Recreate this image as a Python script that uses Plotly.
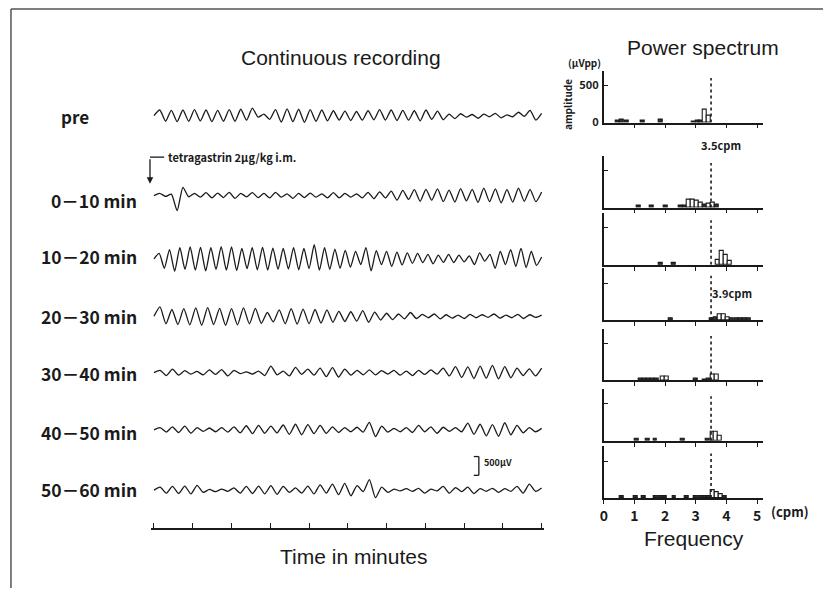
import numpy as np
import plotly.graph_objects as go

W, H = 823, 595

# ---------------- data ----------------
row_labels = ["pre", "0－10 min", "10－20 min", "20－30 min", "30－40 min", "40－50 min", "50－60 min"]

# extrema of each recording (µV), read left to right over 10 minutes
trace_pre = [0, 150, -150, 140, -160, 150, -150, 160, -140, 150, -160, 140, -150, 160, -150, 170, -120,
             200, -40, 40, -100,
             160, -170, 180, -160, 170, -180, 160, -150, 150, -140, 130, -120, 120, -130, 110, -120, 130, -110,
             160, -120, 150, -130, 140, -120, 130, -140, 150, -100, 120, -110,
             40, -80, 50, -40, 30, -70, 40, -30, 60, -60, 20, -30, 90, -20, 140, -120, 60]
trace_0_10 = [0, 60, -20, 40, -400, 220, -30, 60, -40, 80, -60, 70, -50, 90, -70, 60, -30, 80, -50, 60, -60,
              90, -40, 50, -70, 60, -50, 70, -40, 50, -60, 80, -60, 60, -40, 50, -60, 90, -80, 100, -60,
              120, -120, 140, -100, 160, -150, 170, -120, 180, -160, 150, -170, 190, -140, 170, -180,
              200, -160, 180, -190, 160, -170, 200, -150, 170, -160, 100]
trace_10_20 = [0, 150, -250, 250, -330, 300, -280, 320, -300, 310, -320, 300, -280, 330, -300, 320, -310,
               280, -260, 300, -290, 310, -300, 290, -280, 280, -270, 300, -290, 280, -260,
               380, -300, 300, -280, 260, -250, 230, -220, 200, -150,
               300, -320, 220, -150, 200, -200, 180, -160, 160, -120, 150, -100, 120, -130, 100, -90, 120, -100,
               100, -80, 80, -150, 160, -60, 120, -250, 200, -150, 250, -200, 280, -230, 200, -170, 50]
trace_20_30 = [0, 250, -200, 180, -220, 200, -230, 220, -240, 230, -220, 210, -240, 200, -230, 220, -200, 210, -190,
               100, -150, 170, -200, 200, -210, 190, -200, 180, -180, 170, -160, 130, -140, 120, -130, 150, -160, 110, -100,
               80, -90, 60, -70, 100, -60, 50, -40, 60, -70, 40, -50, 30, -60, 50, -40, 40, -30, 60, -50,
               30, -40, 50, -60, 40, -30, 30]
trace_30_40 = [0, 60, -80, 90, -70, 50, -40, 30, -60, 70, -50, 80, -90, 60, -30, 20, -40, 40, -80, 170, -60,
               40, -90, 140, -50, 90, -70, 120, -110, 130, -120, 90, -70, 60, -60, 70, -60, 50, -40, 60, -70,
               40, -80, 60, -50, 70, -40, 120, -90, 160, -130, 150, -160, 170, -150, 190, -170, 160, -140,
               120, -80, 100, -90, 120]
trace_40_50 = [0, 60, -60, 80, -70, 100, -90, 60, -40, 50, -50, 60, -60, 80, -80, 110, -100, 120, -90, 100, -80,
               130, -120, 150, -130, 140, -100, 120, -90, 80, -70, 60, -50, 70, -60, 200, -180, 100, -60,
               40, -50, 60, -70, 120, -50, 80, -90, 70, -40, 60, -50, 180, -120, 150, -160, 140, -170,
               190, -130, 120, -80, 60, -50, 40]
trace_50_60 = [0, 80, -80, 100, -90, 110, -100, 130, -60, 20, -40, 30, -30, 60, -80, 100, -90, 110, -100,
               120, -110, 100, -60, 60, -80, 110, -100, 140, -80, 160, -120, 180, -150, 120, -40, 280, -200,
               80, -60, 30, -20, 40, -30, 50, -80, 30, -20, 100, -80, 70, -40, 80, -90, 40, -30, 50, -60,
               40, -30, 100, -80, 160, -30, 60]
traces = [trace_pre, trace_0_10, trace_10_20, trace_20_30, trace_30_40, trace_40_50, trace_50_60]

time_ticks = list(range(0, 11))          # minutes
scale_bar_uv = 500

# power spectra: frequency (cpm) and amplitude (µVpp)
spec_pre_f = [0.45, 0.6, 0.75, 1.27, 1.86, 2.95, 3.08, 3.18, 3.31, 3.44]
spec_pre_a = [20, 40, 30, 30, 35, 15, 20, 25, 175, 95]
spec_0_10_f = [1.15, 1.56, 2.02, 2.51, 2.65, 2.78, 2.91, 3.04, 3.17, 3.30, 3.43, 3.56, 3.69]
spec_0_10_a = [25, 25, 25, 20, 25, 105, 110, 95, 70, 40, 55, 60, 35]
spec_10_20_f = [1.86, 2.28, 3.71, 3.84, 3.97, 4.10]
spec_10_20_a = [25, 25, 70, 185, 140, 55]
spec_20_30_f = [2.18, 3.52, 3.65, 3.78, 3.91, 4.04, 4.17, 4.35, 4.48, 4.61, 4.74]
spec_20_30_a = [25, 20, 40, 75, 80, 45, 20, 25, 25, 25, 20]
spec_30_40_f = [1.20, 1.33, 1.46, 1.59, 1.72, 1.92, 2.05, 3.0, 3.30, 3.43, 3.57, 3.70]
spec_30_40_a = [20, 20, 20, 20, 20, 55, 55, 20, 15, 20, 75, 80]
spec_40_50_f = [1.08, 1.42, 1.68, 2.57, 3.38, 3.54, 3.67, 3.80]
spec_40_50_a = [25, 25, 25, 25, 20, 125, 120, 65]
spec_50_60_f = [0.6, 1.05, 1.3, 1.7, 1.85, 2.0, 2.3, 2.7, 3.0, 3.15, 3.3, 3.42, 3.55, 3.68, 3.81, 3.94]
spec_50_60_a = [20, 20, 20, 20, 20, 20, 25, 25, 20, 20, 20, 30, 110, 80, 50, 25]
spectra = [(spec_pre_f, spec_pre_a), (spec_0_10_f, spec_0_10_a), (spec_10_20_f, spec_10_20_a),
           (spec_20_30_f, spec_20_30_a), (spec_30_40_f, spec_30_40_a), (spec_40_50_f, spec_40_50_a),
           (spec_50_60_f, spec_50_60_a)]
freq_ticks = [0, 1, 2, 3, 4, 5]
ref_freq = 3.5
peak_freq_10_20 = 3.9

# ---------------- layout constants (pixels) ----------------
def px(x):
    return x / W

def py(y):
    return 1 - y / H

UV_PER_PX = 500 / 19.0
LEFT_X0, LEFT_X1 = 148, 543
LEFT_Y_BOTTOM, LEFT_Y_TOP = 534, 85
row_center_px = [117, 198, 262, 320, 377, 435, 496]
label_center_px = [118, 203, 260, 320, 378, 438, 495]

SPEC_X0 = 602.7
SPEC_PX_PER_CPM = 30.8
SPEC_XMAX = 5.2
SPEC_YMAX = 700
SPEC_PX_PER_UV = 37.5 / 500
spec_base_px = [124, 210, 268, 324, 385, 446, 504]

FONT = "Liberation Sans"
JFONT = "Noto Sans CJK JP"
INK = "#1a1a1a"

fig = go.Figure()

# ---------------- continuous recordings ----------------
y_top_uv = (LEFT_Y_BOTTOM - LEFT_Y_TOP) * UV_PER_PX
for vals, cpx in zip(traces, row_center_px):
    t = np.linspace(0, 10, len(vals))
    off = (LEFT_Y_BOTTOM - cpx) * UV_PER_PX
    fig.add_trace(go.Scatter(x=t, y=np.array(vals) + off, mode="lines",
                             line=dict(color=INK, width=1.3, shape="spline", smoothing=0.6),
                             xaxis="x", yaxis="y", hoverinfo="skip"))

fig.update_layout(
    xaxis=dict(domain=[px(LEFT_X0), px(LEFT_X1)], range=[-0.07, 10.07], showgrid=False, zeroline=False,
               showline=True, linecolor=INK, linewidth=1.6, ticks="inside", ticklen=5, tickwidth=1.3,
               tickcolor=INK, tickvals=time_ticks, showticklabels=False, anchor="y"),
    yaxis=dict(domain=[py(LEFT_Y_BOTTOM), py(LEFT_Y_TOP)], range=[0, y_top_uv], visible=False,
               anchor="x"),
)

# scale bar
sb_t = 8.38
sb_bottom = (LEFT_Y_BOTTOM - 481) * UV_PER_PX
sb_top = sb_bottom + scale_bar_uv
shapes = []
for (x0, y0, x1, y1) in [(sb_t - 0.13, sb_top, sb_t, sb_top), (sb_t, sb_top, sb_t, sb_bottom),
                         (sb_t - 0.13, sb_bottom, sb_t, sb_bottom)]:
    shapes.append(dict(type="line", xref="x", yref="y", x0=x0, y0=y0, x1=x1, y1=y1,
                       line=dict(color=INK, width=1.3)))

# ---------------- power spectra ----------------
for i, ((f, a), base) in enumerate(zip(spectra, spec_base_px)):
    n = i + 2
    xa, ya = f"x{n}", f"y{n}"
    colors = ["#333" if v < 45 else "white" for v in a]
    fig.add_trace(go.Bar(x=f, y=a, width=0.13, marker=dict(color=colors, line=dict(color=INK, width=1.1)),
                         xaxis=xa, yaxis=ya, hoverinfo="skip"))
    last = (i == len(spectra) - 1)
    first = (i == 0)
    fig.layout[f"xaxis{n}"] = dict(
        domain=[px(SPEC_X0), px(SPEC_X0 + SPEC_XMAX * SPEC_PX_PER_CPM)], range=[0, SPEC_XMAX],
        showgrid=False, zeroline=False, showline=True, linecolor=INK, linewidth=1.6,
        ticks="outside", ticklen=4, tickwidth=1.3, tickcolor=INK,
        tickvals=freq_ticks if last else freq_ticks[1:], showticklabels=last,
        tickfont=dict(family=JFONT, size=14, color=INK, weight="bold"), anchor=ya)
    fig.layout[f"yaxis{n}"] = dict(
        domain=[py(base), py(base - SPEC_YMAX * SPEC_PX_PER_UV)], range=[0, SPEC_YMAX],
        showgrid=False, zeroline=False, showline=True, linecolor=INK, linewidth=1.6,
        ticks="inside", ticklen=4, tickwidth=1.3, tickcolor=INK,
        tickvals=[0, 500] if first else [500], showticklabels=first, ticklabelstandoff=1,
        tickfont=dict(family=JFONT, size=11, color=INK, weight="bold"), anchor=xa)
    shapes.append(dict(type="line", xref=xa, yref=ya, x0=ref_freq, x1=ref_freq, y0=0, y1=600,
                       line=dict(color=INK, width=1.6, dash="dot")))

# frame
shapes.append(dict(type="line", xref="paper", yref="paper", x0=px(7), x1=1, y0=py(9), y1=py(9),
                   line=dict(color="#555", width=1.5)))
shapes.append(dict(type="line", xref="paper", yref="paper", x0=px(7), x1=px(7), y0=py(9), y1=0,
                   line=dict(color="#555", width=1.5)))
# tetragastrin marker line
shapes.append(dict(type="line", xref="paper", yref="paper", x0=px(146.7), x1=px(161), y0=py(159), y1=py(159),
                   line=dict(color=INK, width=1.3)))

anns = []

def ann(text, x, y, size, family=FONT, xanchor="center", weight="normal", angle=0):
    anns.append(dict(text=text, x=px(x), y=py(y), xref="paper", yref="paper", showarrow=False,
                     xanchor=xanchor, yanchor="middle", textangle=angle,
                     font=dict(family=family, size=size, color=INK, weight=weight)))

ann("Continuous recording", 339, 58, 21)
ann("Power spectrum", 702, 48, 21)
ann("Time in minutes", 351, 563, 21)
ann("Frequency", 693, 545, 21)
for lab, ly in zip(row_labels, label_center_px):
    if lab == "pre":
        ann(lab, 71, ly, 17, family=JFONT, weight="bold")
    else:
        ann(lab, 136, ly, 17.5, family=JFONT, xanchor="right", weight="bold")

ann("tetragastrin 2μg/kg i.m.", 163, 159, 11, family=JFONT, xanchor="left", weight="bold")
ann("500μV", 480, 468, 9, family=JFONT, xanchor="left", weight="bold")
ann("(μVpp)", 583, 63, 10, family=JFONT, weight="bold")
ann("amplitude", 567, 106, 10, family=JFONT, weight="bold", angle=-90)
ann("(cpm)", 790, 518, 13, family=JFONT, weight="bold")
ann("3.5cpm", 721, 147, 11, family=JFONT, weight="bold")
ann("3.9cpm", 732, 296, 11, family=JFONT, weight="bold")

# arrows
anns.append(dict(x=px(146.7), y=py(186), xref="paper", yref="paper", ax=0, ay=-26, showarrow=True,
                 arrowhead=2, arrowsize=1, arrowwidth=1.3, arrowcolor=INK, text=""))
anns.append(dict(x=ref_freq, y=-35, xref="x2", yref="y2", ax=0, ay=9, showarrow=True,
                 arrowhead=2, arrowsize=0.8, arrowwidth=1.3, arrowcolor=INK, text=""))
anns.append(dict(x=peak_freq_10_20, y=-130, xref="x4", yref="y4", ax=0, ay=8, showarrow=True,
                 arrowhead=2, arrowsize=0.8, arrowwidth=1.3, arrowcolor=INK, text=""))

fig.update_layout(width=W, height=H, margin=dict(l=0, r=0, t=0, b=0), showlegend=False,
                  paper_bgcolor="white", plot_bgcolor="rgba(0,0,0,0)", shapes=shapes, annotations=anns,
                  bargap=0)

fig.write_html("out.html", config={"displayModeBar": False},
               post_script="document.body.style.margin='0';document.body.style.overflow='hidden';")
